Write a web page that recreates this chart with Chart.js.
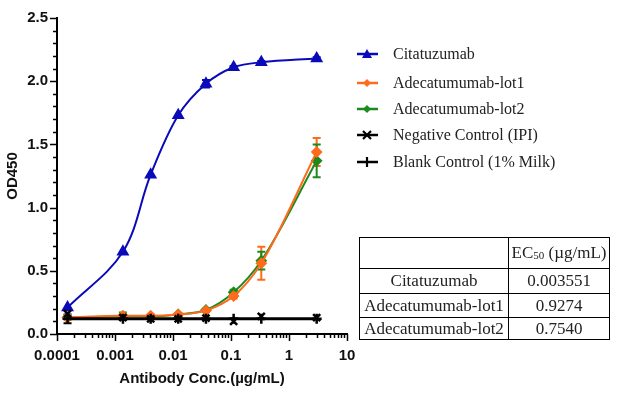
<!DOCTYPE html>
<html>
<head>
<meta charset="utf-8">
<script src="https://cdn.jsdelivr.net/npm/chart.js@4.4.1/dist/chart.umd.min.js"></script>
<style>
  body { margin: 0; background: #fff; }
  #wrap { position: relative; width: 628px; height: 399px; overflow: hidden; }
  #chart { position: absolute; left: 0; top: 0; }
  #legend { position: absolute; left: 356px; top: 0; font-family: "Liberation Serif", serif; font-size: 16px; color: #222; }
  #legend .row { position: absolute; left: 0; height: 20px; line-height: 20px; white-space: nowrap; }
  #legend svg { position: absolute; left: 0; top: 3px; }
  #legend span { position: absolute; left: 37px; top: 0; }
  #ec50 { position: absolute; left: 359px; top: 237px; border-collapse: collapse; font-family: "Liberation Serif", serif; font-size: 17px; color: #222; }
  #ec50 td { border: 1px solid #000; text-align: center; padding: 0; }
  #ec50 sub { font-size: 11px; vertical-align: -1px; }
</style>
</head>
<body>
<div id="wrap">
  <canvas id="chart" width="628" height="399"></canvas>
  <div id="legend"></div>
  <table id="ec50"></table>
</div>
<script>
// concentrations (µg/mL), 3-fold dilutions
const concs = [0.000152, 0.00137, 0.00412, 0.0123, 0.037, 0.111, 0.333, 3];

const citatuzumab    = [0.21, 0.65, 1.26, 1.73, 1.98, 2.11, 2.15, 2.18];
const citatuzumabErr = [0, 0, 0, 0, 0.03, 0.01, 0.01, 0.01];
const lot1    = [0.13, 0.145, 0.145, 0.155, 0.185, 0.30, 0.56, 1.44];
const lot1Err = [0.02, 0.01, 0.01, 0.01, 0.01, 0.02, 0.13, 0.11];
const lot2    = [0.13, 0.14, 0.14, 0.155, 0.19, 0.33, 0.58, 1.37];
const lot2Err = [0.01, 0.03, 0.01, 0.01, 0.01, 0.02, 0.07, 0.13];
const negCtrl   = [0.16, 0.13, 0.12, 0.12, 0.125, 0.10, 0.14, 0.13];
const blankCtrl = [0.12, 0.12, 0.12, 0.12, 0.12, 0.12, 0.12, 0.12];
const blankErr  = [0.035, 0, 0, 0, 0, 0, 0, 0];

const xTicks = [0.0001, 0.001, 0.01, 0.1, 1, 10];

const ec50Names  = ["Citatuzumab", "Adecatumumab-lot1", "Adecatumumab-lot2"];
const ec50Values = ["0.003551", "0.9274", "0.7540"];

const BLUE = "#0A0AB8", ORANGE = "#FF6B1C", GREEN = "#1C8A1C", BLACK = "#000";

function pts(vals) {
  return concs.map((c, i) => ({ x: c, y: vals[i] }));
}

// error bars drawn with the chart scales
const errorBars = {
  id: "errorBars",
  beforeDatasetsDraw(chart) {
    const ctx = chart.ctx, ys = chart.scales.y;
    chart.data.datasets.forEach((ds, i) => {
      if (!ds.errors) return;
      const meta = chart.getDatasetMeta(i);
      ctx.save();
      ctx.strokeStyle = ds.borderColor;
      ctx.lineWidth = 2;
      meta.data.forEach((p, j) => {
        const e = ds.errors[j];
        if (!e) return;
        const v = ds.data[j].y;
        const t = ys.getPixelForValue(v + e), b = ys.getPixelForValue(v - e);
        ctx.beginPath();
        ctx.moveTo(p.x, t); ctx.lineTo(p.x, b);
        ctx.moveTo(p.x - 4, t); ctx.lineTo(p.x + 4, t);
        ctx.moveTo(p.x - 4, b); ctx.lineTo(p.x + 4, b);
        ctx.stroke();
      });
      ctx.restore();
    });
  }
};

// major / minor tick marks on both axes
const axisTicks = {
  id: "axisTicks",
  afterDraw(chart) {
    const ctx = chart.ctx, xs = chart.scales.x, ys = chart.scales.y;
    const a = chart.chartArea;
    ctx.save();
    ctx.strokeStyle = "#000";
    ctx.lineWidth = 1.5;
    ctx.beginPath();
    for (let e = -4; e <= 1; e++) {
      for (let k = 1; k <= 9; k++) {
        const v = k * Math.pow(10, e);
        if (v > 10.0001) break;
        const x = Math.round(xs.getPixelForValue(v)) + 0.5;
        const len = k === 1 ? 7 : 4;
        ctx.moveTo(x, a.bottom); ctx.lineTo(x, a.bottom + len);
      }
    }
    for (let i = 0; i <= 25; i++) {
      const y = Math.round(ys.getPixelForValue(i / 10)) + 0.5;
      const len = i % 5 === 0 ? 7 : 4;
      ctx.moveTo(a.left, y); ctx.lineTo(a.left - len, y);
    }
    ctx.stroke();
    ctx.restore();
  }
};

const axisFont = { family: "'Liberation Sans', Arial, sans-serif", weight: "bold", size: 15 };

new Chart(document.getElementById("chart"), {
  type: "line",
  data: {
    datasets: [
      { label: "Negative Control (IPI)", data: pts(negCtrl), showLine: false,
        borderColor: BLACK, backgroundColor: BLACK, pointStyle: "crossRot",
        pointRadius: 5, pointBorderWidth: 2.5, order: 1 },
      { label: "Blank Control (1% Milk)", data: pts(blankCtrl), errors: blankErr,
        borderColor: BLACK, backgroundColor: BLACK, borderWidth: 3, pointStyle: "cross",
        pointRadius: 5, pointBorderWidth: 2.5, order: 2 },
      { label: "Citatuzumab", data: pts(citatuzumab), errors: citatuzumabErr,
        borderColor: BLUE, backgroundColor: BLUE, borderWidth: 2, pointStyle: "triangle",
        pointRadius: 5.5, tension: 0.35, order: 3 },
      { label: "Adecatumumab-lot1", data: pts(lot1), errors: lot1Err,
        borderColor: ORANGE, backgroundColor: ORANGE, borderWidth: 2, pointStyle: "rectRot",
        pointRadius: 4.5, cubicInterpolationMode: "monotone", order: 4 },
      { label: "Adecatumumab-lot2", data: pts(lot2), errors: lot2Err,
        borderColor: GREEN, backgroundColor: GREEN, borderWidth: 2, pointStyle: "rectRot",
        pointRadius: 4.5, cubicInterpolationMode: "monotone", order: 5 }
    ]
  },
  options: {
    responsive: false,
    animation: false,
    layout: { padding: { top: 12, right: 281, left: 0, bottom: 0 } },
    plugins: { legend: { display: false }, tooltip: { enabled: false } },
    scales: {
      x: {
        type: "logarithmic", min: 0.0001, max: 10,
        grid: { drawOnChartArea: false, drawTicks: false },
        border: { color: "#000", width: 2 },
        afterBuildTicks: s => { s.ticks = xTicks.map(v => ({ value: v })); },
        ticks: { callback: v => String(v), padding: 13, font: axisFont, color: "#111",
                 maxRotation: 0, autoSkip: false },
        title: { display: true, text: "Antibody Conc.(µg/mL)", font: axisFont, color: "#111",
                 padding: { top: 4, bottom: 11 } },
        afterFit: s => { s.height = 65; }
      },
      y: {
        min: 0, max: 2.5,
        grid: { drawOnChartArea: false, drawTicks: false },
        border: { color: "#000", width: 2 },
        ticks: { stepSize: 0.5, callback: v => Number(v).toFixed(1), padding: 9,
                 font: axisFont, color: "#111" },
        title: { display: true, text: "OD450", font: axisFont, color: "#111",
                 padding: { top: 4, bottom: 4 } },
        afterFit: s => { s.width = 57; }
      }
    }
  },
  plugins: [errorBars, axisTicks]
});

// legend
const legendItems = [
  { name: "Citatuzumab", color: BLUE, mark: "tri", y: 54 },
  { name: "Adecatumumab-lot1", color: ORANGE, mark: "dia", y: 83 },
  { name: "Adecatumumab-lot2", color: GREEN, mark: "dia", y: 109 },
  { name: "Negative Control (IPI)", color: BLACK, mark: "x", y: 135 },
  { name: "Blank Control (1% Milk)", color: BLACK, mark: "plus", y: 162 }
];
const marks = {
  tri: c => `<polygon points="11,2 16,11 6,11" fill="${c}"/>`,
  dia: c => `<polygon points="11,3 15,7 11,11 7,7" fill="${c}"/>`,
  x: c => `<path d="M7,3 L15,11 M15,3 L7,11" stroke="${c}" stroke-width="2.2"/>`,
  plus: c => `<path d="M11,2 L11,12" stroke="${c}" stroke-width="2.2"/>`
};
const legend = document.getElementById("legend");
legendItems.forEach(it => {
  const row = document.createElement("div");
  row.className = "row";
  row.style.top = (it.y - 10) + "px";
  row.innerHTML = `<svg width="24" height="14"><line x1="1" y1="7" x2="22" y2="7" stroke="${it.color}" stroke-width="2.5"/>${marks[it.mark](it.color)}</svg><span>${it.name}</span>`;
  legend.appendChild(row);
});

// EC50 table
const table = document.getElementById("ec50");
let html = `<tr style="height:31px"><td style="width:148px"></td><td style="width:100px">EC<sub>50</sub> (µg/mL)</td></tr>`;
ec50Names.forEach((n, i) => {
  const h = [25, 24, 22][i];
  html += `<tr style="height:${h}px"><td>${n}</td><td>${ec50Values[i]}</td></tr>`;
});
table.innerHTML = html;
</script>
</body>
</html>
